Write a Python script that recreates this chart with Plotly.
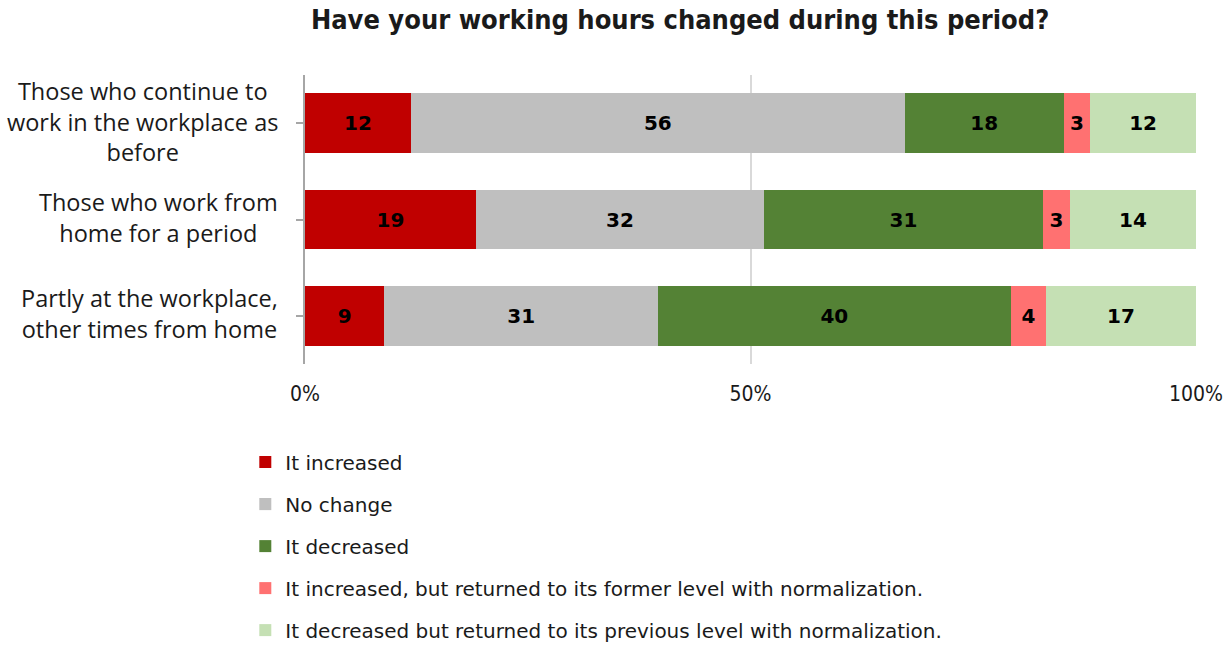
import plotly.graph_objects as go

# Survey groups (top to bottom) and answer shares
groups = [
    "Those who continue to<br>work in the workplace as<br>before",
    "Those who work from<br>home for a period",
    "Partly at the workplace,<br>other times from home",
]
answers = [
    "It increased",
    "No change",
    "It decreased",
    "It increased, but returned to its former level with normalization.",
    "It decreased but returned to its previous level with normalization.",
]
increased = [12, 19, 9]
no_change = [56, 32, 31]
decreased = [18, 31, 40]
increased_returned = [3, 3, 4]
decreased_returned = [12, 14, 17]
series = [increased, no_change, decreased, increased_returned, decreased_returned]
colors = ["#C00000", "#BFBFBF", "#548235", "#FF7171", "#C5E0B4"]
x_ticks = [0, 50, 100]
x_tick_text = [f"{v}%" for v in x_ticks]

COND = "DejaVu Sans Condensed, Liberation Sans"

cat_ids = list(range(len(groups)))

fig = go.Figure()
for name, vals, col in zip(answers, series, colors):
    fig.add_trace(go.Bar(
        y=cat_ids,
        x=vals,
        name=name,
        orientation="h",
        marker=dict(color=col, line=dict(width=0)),
        text=vals,
        texttemplate="%{text}",
        textposition="inside",
        insidetextanchor="middle",
        textangle=0,
        textfont=dict(family="DejaVu Sans", size=20, color="black", weight="bold"),
        width=0.62,
        legendgroup=name,
    ))

# Category labels, centred line by line and right-aligned to the axis
for i, g in enumerate(groups):
    fig.add_annotation(
        x=0, xref="paper", xshift=-25, xanchor="right",
        y=i, yref="y", yanchor="middle", yshift=2,
        text=g, showarrow=False, align="center",
        font=dict(family="Open Sans", size=23.5, color="#1a1a1a"),
    )

fig.update_layout(
    width=1232, height=646,
    margin=dict(l=305, r=36, t=75, b=282, autoexpand=False),
    paper_bgcolor="white", plot_bgcolor="white",
    barmode="stack", barnorm="percent",
    uniformtext=dict(minsize=17, mode="show"),
    title=dict(
        text="Have your working hours changed during this period?",
        x=0.552, xanchor="center", y=0.97, yanchor="middle",
        font=dict(family=COND, size=27, color="#1a1a1a", weight="bold"),
    ),
    xaxis=dict(
        range=[0, 100], tickvals=x_ticks, ticktext=x_tick_text,
        showgrid=True, gridcolor="#d9d9d9", gridwidth=2,
        zeroline=False, showline=False, ticks="",
        tickfont=dict(family=COND, size=21, color="#1a1a1a"),
        ticklabelstandoff=15,
    ),
    yaxis=dict(
        tickvals=cat_ids, range=[2.5, -0.5],
        showticklabels=False, showgrid=False, zeroline=False,
        showline=True, linecolor="#a6a6a6", linewidth=2,
        ticks="outside", tickson="boundaries", ticklen=7, tickcolor="#a6a6a6", tickwidth=2,
    ),
    legend=dict(
        orientation="v", x=-0.067, xanchor="left", y=-0.272, yanchor="top",
        font=dict(family="DejaVu Sans", size=20, color="#1a1a1a"),
        tracegroupgap=13, itemwidth=30, bgcolor="rgba(0,0,0,0)",
    ),
    showlegend=True,
)

fig.write_html("out.html")
